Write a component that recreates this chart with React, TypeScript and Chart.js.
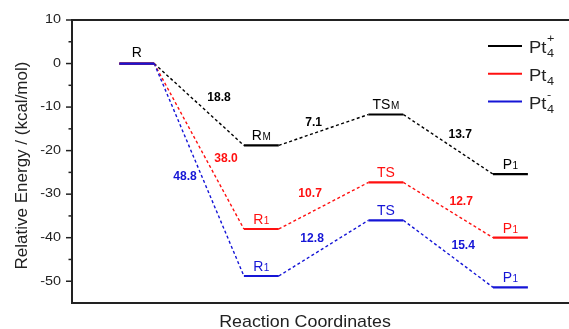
import { useEffect, useRef } from 'react';
import { Chart, registerables } from 'chart.js';

Chart.register(...registerables);

// Reaction path stages, placed at 1..4 on the reaction coordinate
const stagePositions = [1, 2, 3, 4];

// Relative energies (kcal/mol) of each stationary point
const cationEnergies = [0, -18.8, -11.7, -25.4];
const neutralEnergies = [0, -38.0, -27.3, -40.0];
const anionEnergies = [0, -48.8, -36.0, -51.4];

// Energy gaps printed along each connecting path
const cationGaps = [18.8, 7.1, 13.7];
const neutralGaps = [38.0, 10.7, 12.7];
const anionGaps = [48.8, 12.8, 15.4];

// State names: [main text, subscript]
const cationStates = [['R', ''], ['R', 'M'], ['TS', 'M'], ['P', '1']];
const neutralStates = [['', ''], ['R', '1'], ['TS', ''], ['P', '1']];
const anionStates = [['', ''], ['R', '1'], ['TS', ''], ['P', '1']];

// Legend entries: base, subscript, superscript
const legendNames = [['Pt', '4', '+'], ['Pt', '4', ''], ['Pt', '4', '-']];

const yMajorTicks = [10, 0, -10, -20, -30, -40, -50];
const yMinorTicks = [5, -5, -15, -25, -35, -45];
const yTitle = 'Relative Energy / (kcal/mol)';
const xTitle = 'Reaction Coordinates';

const BLACK = '#000000';
const RED = '#ff1010';
const BLUE = '#1515d6';
const AXIS = '#222222';
const LEVEL_HALF = 0.14;

// Pixel offsets of the gap labels from the middle of each dashed path
const gapLabelOffsets = [
  [[20, -7], [-10, -8], [12, -9.5]],
  [[27, 12.5], [-13.5, -12], [13, -8.4]],
  [[-14, 7], [-11.5, -9.6], [15, -8.5]],
];

const series = [
  { name: 'cation', energies: cationEnergies, gaps: cationGaps, states: cationStates, color: BLACK, order: 2 },
  { name: 'neutral', energies: neutralEnergies, gaps: neutralGaps, states: neutralStates, color: RED, order: 1 },
  { name: 'anion', energies: anionEnergies, gaps: anionGaps, states: anionStates, color: BLUE, order: 0 },
];

function levelPoints(energies: number[]) {
  const pts: { x: number; y: number }[] = [];
  energies.forEach((e, i) => {
    pts.push({ x: stagePositions[i] - LEVEL_HALF, y: e });
    pts.push({ x: stagePositions[i] + LEVEL_HALF, y: e });
  });
  return pts;
}

function drawText(
  ctx: CanvasRenderingContext2D,
  str: string,
  x: number,
  y: number,
  font: string,
  color: string,
  align: CanvasTextAlign = 'left',
  baseline: CanvasTextBaseline = 'alphabetic',
  sx = 1,
) {
  ctx.save();
  ctx.font = font;
  ctx.fillStyle = color;
  ctx.textAlign = align;
  ctx.textBaseline = baseline;
  ctx.translate(x, y);
  ctx.scale(sx, 1);
  ctx.fillText(str, 0, 0);
  ctx.restore();
}

const FONT = '"Liberation Sans", Arial, sans-serif';

const decorPlugin = {
  id: 'energyDecor',
  beforeDatasetsDraw(chart: any) {
    const { ctx, chartArea } = chart;
    const yScale = chart.scales.y;
    const { left, top, right, bottom } = chartArea;
    ctx.save();
    ctx.strokeStyle = AXIS;
    ctx.lineWidth = 2;
    ctx.beginPath();
    ctx.moveTo(right + 5, top);
    ctx.lineTo(left, top);
    ctx.lineTo(left, bottom);
    ctx.lineTo(right + 5, bottom);
    ctx.stroke();

    ctx.lineWidth = 1.5;
    yMajorTicks.forEach((v) => {
      const py = yScale.getPixelForValue(v);
      ctx.beginPath();
      ctx.moveTo(left - 6, py);
      ctx.lineTo(left, py);
      ctx.stroke();
      drawText(ctx, String(v), left - 11, py, `12px ${FONT}`, AXIS, 'right', 'middle', 1.2);
    });
    yMinorTicks.forEach((v) => {
      const py = yScale.getPixelForValue(v);
      ctx.beginPath();
      ctx.moveTo(left - 3.5, py);
      ctx.lineTo(left, py);
      ctx.stroke();
    });
    ctx.restore();

    // axis titles
    ctx.save();
    ctx.translate(27, (top + bottom) / 2 + 4);
    ctx.rotate(-Math.PI / 2);
    drawText(ctx, yTitle, 0, 0, `17px ${FONT}`, AXIS, 'center', 'alphabetic', 1);
    ctx.restore();
    drawText(ctx, xTitle, 305, 327, `17px ${FONT}`, AXIS, 'center', 'alphabetic', 1.05);
  },
  afterDatasetsDraw(chart: any) {
    const { ctx } = chart;
    const xScale = chart.scales.x;
    const yScale = chart.scales.y;

    series.forEach((s, si) => {
      // state names above each level
      s.states.forEach(([main, sub], i) => {
        if (!main) return;
        const cx = xScale.getPixelForValue(stagePositions[i]);
        const py = yScale.getPixelForValue(s.energies[i]) - (i === 0 ? 7 : 5);
        ctx.save();
        ctx.font = `14px ${FONT}`;
        const wMain = ctx.measureText(main).width;
        ctx.font = `10px ${FONT}`;
        const wSub = sub ? ctx.measureText(sub).width + 0.5 : 0;
        ctx.restore();
        const x0 = cx - (wMain + wSub) / 2;
        drawText(ctx, main, x0, py, `14px ${FONT}`, s.color);
        if (sub) drawText(ctx, sub, x0 + wMain + 0.5, py, `10px ${FONT}`, s.color);
      });

      // gap values along the dashed paths
      s.gaps.forEach((g, i) => {
        const xa = xScale.getPixelForValue(stagePositions[i] + LEVEL_HALF);
        const ya = yScale.getPixelForValue(s.energies[i]);
        const xb = xScale.getPixelForValue(stagePositions[i + 1] - LEVEL_HALF);
        const yb = yScale.getPixelForValue(s.energies[i + 1]);
        const [dx, dy] = gapLabelOffsets[si][i];
        drawText(ctx, g.toFixed(1), (xa + xb) / 2 + dx, (ya + yb) / 2 + dy, `bold 13px ${FONT}`, s.color, 'center', 'middle', 0.93);
      });
    });

    // legend
    series.forEach((s, i) => {
      const ly = 46 + i * 27.8;
      ctx.save();
      ctx.strokeStyle = s.color;
      ctx.lineWidth = 2;
      ctx.beginPath();
      ctx.moveTo(488, ly);
      ctx.lineTo(522, ly);
      ctx.stroke();
      ctx.restore();
      const [base, sub, sup] = legendNames[i];
      const sx = 1.15;
      ctx.save();
      ctx.font = `16px ${FONT}`;
      const wb = ctx.measureText(base).width * sx;
      ctx.restore();
      drawText(ctx, base, 529, ly + 7, `16px ${FONT}`, AXIS, 'left', 'alphabetic', sx);
      drawText(ctx, sub, 529 + wb + 0.5, ly + 11, `11px ${FONT}`, AXIS, 'left', 'alphabetic', sx);
      if (sup) drawText(ctx, sup, 529 + wb + 0.5, ly - 4, `11px ${FONT}`, AXIS, 'left', 'alphabetic', sx);
    });
  },
};

export default function App() {
  const canvasRef = useRef<HTMLCanvasElement | null>(null);

  useEffect(() => {
    const canvas = canvasRef.current;
    if (!canvas) return;
    const chart = new Chart(canvas, {
      type: 'line',
      data: {
        datasets: series.map((s) => ({
          label: s.name,
          data: levelPoints(s.energies),
          borderColor: s.color,
          backgroundColor: s.color,
          borderWidth: 2,
          pointRadius: 0,
          tension: 0,
          fill: false,
          order: s.order,
          segment: {
            borderDash: (c: any) => (c.p0DataIndex % 2 === 1 ? [3, 2.5] : undefined),
            borderWidth: (c: any) => (c.p0DataIndex % 2 === 1 ? 1.4 : 2.2),
          },
        })),
      },
      options: {
        animation: false,
        responsive: false,
        devicePixelRatio: 1,
        layout: { padding: { left: 72, top: 20, right: 0, bottom: 26 } },
        plugins: { legend: { display: false }, tooltip: { enabled: false } },
        scales: {
          x: { type: 'linear', min: 0.48, max: 4.47, display: false },
          y: { type: 'linear', min: -55, max: 10, display: false },
        },
      },
      plugins: [decorPlugin],
    });
    return () => chart.destroy();
  }, []);

  return (
    <div style={{ position: 'absolute', left: 0, top: 0, width: 569, height: 329, background: '#fff' }}>
      <canvas ref={canvasRef} width={569} height={329} style={{ display: 'block' }} />
    </div>
  );
}
